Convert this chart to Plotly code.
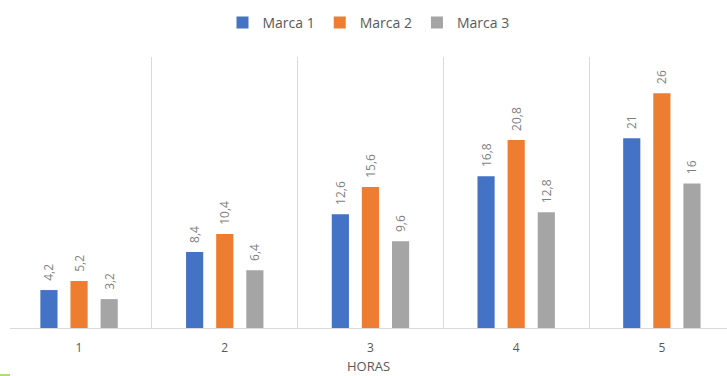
import plotly.graph_objects as go

# Data
horas = ["1", "2", "3", "4", "5"]
marca_1 = [4.2, 8.4, 12.6, 16.8, 21]
marca_2 = [5.2, 10.4, 15.6, 20.8, 26]
marca_3 = [3.2, 6.4, 9.6, 12.8, 16]
series_names = ["Marca 1", "Marca 2", "Marca 3"]
colors = ["#4472C4", "#ED7D31", "#A5A5A5"]


def fmt(v):
    # decimal comma, integers without decimals; leading spaces keep the label off the bar
    s = f"{v:g}".replace(".", ",")
    return "\u00a0\u00a0" + s


fig = go.Figure()
for name, vals, col in zip(series_names, [marca_1, marca_2, marca_3], colors):
    fig.add_trace(go.Bar(
        x=horas, y=vals, name=name,
        marker=dict(color=col, line=dict(width=0)),
        text=[fmt(v) for v in vals],
        textposition="outside",
        textangle=-90,
        constraintext="none",
        textfont=dict(family="Open Sans, sans-serif", size=12, color="#7f7f7f"),
        cliponaxis=False,
    ))

plot_top, plot_h = 57, 271

fig.update_layout(
    width=727, height=376,
    margin=dict(l=10, r=0, t=plot_top, b=376 - plot_top - plot_h),
    paper_bgcolor="white", plot_bgcolor="white",
    barmode="group", bargap=0.38, bargroupgap=0.43,
    font=dict(family="Open Sans, sans-serif", color="#595959"),
    showlegend=True,
    legend=dict(orientation="h", x=0.5, xanchor="center",
                y=1 + (plot_top - 23) / plot_h, yanchor="middle",
                font=dict(size=14, color="#595959"), itemwidth=30,
                traceorder="normal"),
    xaxis=dict(
        type="category", range=[-0.474, 4.447],
        tickson="boundaries", ticks="", showgrid=True, gridcolor="#d9d9d9", gridwidth=1,
        showline=True, linecolor="#d9d9d9", linewidth=1,
        ticklabelstandoff=9,
        tickfont=dict(size=12, color="#595959"),
        title=dict(text="HORAS", font=dict(size=13, color="#595959"), standoff=6),
    ),
    yaxis=dict(range=[0, 30], showgrid=False, showticklabels=False, zeroline=False,
               showline=False, ticks=""),
    shapes=[dict(type="line", xref="paper", yref="paper", x0=-10 / 717, x1=0,
                 y0=-47 / plot_h, y1=-47 / plot_h, line=dict(color="#92D050", width=1.5))],
)

fig.write_html("out.html")
